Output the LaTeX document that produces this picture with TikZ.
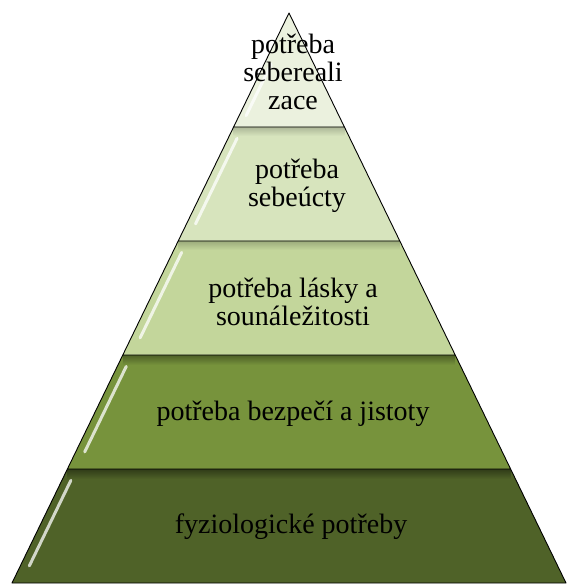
\documentclass[tikz,border=0pt]{standalone}
\usepackage{fontspec}
\setmainfont{Liberation Serif}
\usetikzlibrary{calc}
\definecolor{pySelf}{HTML}{EBF1DE}
\definecolor{pyEsteem}{HTML}{D7E4BD}
\definecolor{pyLove}{HTML}{C3D69B}
\definecolor{pySafety}{HTML}{77933C}
\definecolor{pyBody}{HTML}{4F6228}
\tikzset{
  layer/.style={draw=black, line width=0.9pt, line join=round},
  layertext/.style={font=\fontsize{28}{28}\selectfont, align=center, text=black, inner sep=0pt},
  gloss/.style={white, line width=3pt, line cap=round, opacity=0.75},
  bevel/.style={draw=none}
}

\begin{document}
\begin{tikzpicture}[x=1pt,y=-1pt]
  \useasboundingbox (0,0) rectangle (566,585);
  \coordinate (apex) at (289,13);
  \coordinate (bl) at (12,583);
  \coordinate (br) at (566,583);
  \coordinate (l1) at ($(apex)!0.2!(bl)$);
  \coordinate (r1) at ($(apex)!0.2!(br)$);
  \coordinate (l2) at ($(apex)!0.4!(bl)$);
  \coordinate (r2) at ($(apex)!0.4!(br)$);
  \coordinate (l3) at ($(apex)!0.6!(bl)$);
  \coordinate (r3) at ($(apex)!0.6!(br)$);
  \coordinate (l4) at ($(apex)!0.8!(bl)$);
  \coordinate (r4) at ($(apex)!0.8!(br)$);

  % layers, top to bottom
  \fill[pySelf] (apex) -- (l1) -- (r1) -- cycle;
  \fill[pyEsteem] (l1) -- (l2) -- (r2) -- (r1) -- cycle;
  \fill[pyLove] (l2) -- (l3) -- (r3) -- (r2) -- cycle;
  \fill[pySafety] (l3) -- (l4) -- (r4) -- (r3) -- cycle;
  \fill[pyBody] (l4) -- (bl) -- (br) -- (r4) -- cycle;

  % bevel shading along the top of each layer
  \begin{scope}
    \clip (l1) -- (l2) -- (r2) -- (r1) -- cycle;
    \shade[bevel, top color=pyEsteem!80!black, bottom color=pyEsteem] (l1) rectangle ($(r1)+(0,9)$);
  \end{scope}
  \begin{scope}
    \clip (l2) -- (l3) -- (r3) -- (r2) -- cycle;
    \shade[bevel, top color=pyLove!80!black, bottom color=pyLove] (l2) rectangle ($(r2)+(0,9)$);
  \end{scope}
  \begin{scope}
    \clip (l3) -- (l4) -- (r4) -- (r3) -- cycle;
    \shade[bevel, top color=pySafety!65!black, bottom color=pySafety] (l3) rectangle ($(r3)+(0,10)$);
  \end{scope}
  \begin{scope}
    \clip (l4) -- (bl) -- (br) -- (r4) -- cycle;
    \shade[bevel, top color=pyBody!60!black, bottom color=pyBody] (l4) rectangle ($(r4)+(0,10)$);
  \end{scope}

  % highlights on the left slopes
  \draw[gloss] ($(apex)!0.45!(l1)+(7,0)$) -- ($(apex)!0.9!(l1)+(7,0)$);
  \draw[gloss] ($(l1)!0.1!(l2)+(9,0)$) -- ($(l1)!0.85!(l2)+(9,0)$);
  \draw[gloss] ($(l2)!0.1!(l3)+(9,0)$) -- ($(l2)!0.85!(l3)+(9,0)$);
  \draw[gloss] ($(l3)!0.1!(l4)+(9,0)$) -- ($(l3)!0.85!(l4)+(9,0)$);
  \draw[gloss] ($(l4)!0.1!(bl)+(9,0)$) -- ($(l4)!0.85!(bl)+(9,0)$);

  % outlines
  \draw[layer] (apex) -- (l1) -- (r1) -- cycle;
  \draw[layer] (l1) -- (l2) -- (r2) -- (r1);
  \draw[layer] (l2) -- (l3) -- (r3) -- (r2);
  \draw[layer] (l3) -- (l4) -- (r4) -- (r3);
  \draw[layer] (l4) -- (bl) -- (br) -- (r4);

  % labels
  \node[layertext] (self) at (293,72) {potřeba\\sebereali\\zace};
  \node[layertext] (esteem) at (297,186) {potřeba\\sebeúcty};
  \node[layertext] (love) at (293,302) {potřeba lásky a\\sounáležitosti};
  \node[layertext] (safety) at (293,414) {potřeba bezpečí a jistoty};
  \node[layertext] (body) at (291,527) {fyziologické potřeby};
\end{tikzpicture}
\end{document}
